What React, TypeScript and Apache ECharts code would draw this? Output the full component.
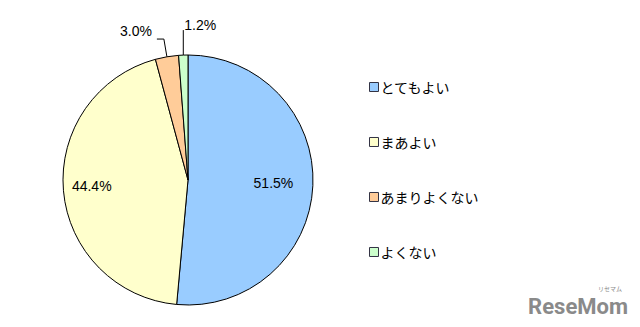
import React, { useEffect, useRef } from "react";
import * as echarts from "echarts";

const categories = ["とてもよい", "まあよい", "あまりよくない", "よくない"];
const values = [51.5, 44.4, 3.0, 1.2];
const colors = ["#99CCFF", "#FFFFCC", "#FFCC99", "#CCFFCC"];
const insideShift = [20, -31, 0, 0];

export default function App() {
  const ref = useRef<HTMLDivElement>(null);
  useEffect(() => {
    if (!ref.current) return;
    const chart = echarts.init(ref.current, null, { renderer: "svg" });
    const data = categories.map((name, i) => {
      const inside = i < 2;
      return {
        name,
        value: values[i],
        itemStyle: { color: colors[i] },
        label: inside
          ? { position: "inside" as const }
          : { position: "outside" as const },
        labelLine: { show: !inside },
      };
    });
    chart.setOption({
      animation: false,
      backgroundColor: "#ffffff",
      legend: {
        orient: "vertical",
        left: 364,
        top: 75,
        itemWidth: 9,
        itemHeight: 9,
        itemGap: 41,
        icon: "rect",
        data: categories,
        textStyle: {
          fontFamily: "Noto Sans CJK JP",
          fontSize: 14,
          color: "#000",
          padding: [0, 0, 0, -3],
        },
        itemStyle: { borderColor: "#334", borderWidth: 1 },
      },
      graphic: [
        {
          type: "text",
          right: 12,
          bottom: 10,
          style: {
            text: "ReseMom",
            fontFamily: "Roboto",
            fontWeight: "bold",
            fontSize: 22,
            fill: "#8a8a8a",
          },
        },
        {
          type: "text",
          right: 18,
          bottom: 36,
          style: {
            text: "リセマム",
            fontFamily: "Noto Sans CJK JP",
            fontSize: 6,
            fill: "#8a8a8a",
          },
        },
      ],
      series: [
        {
          type: "pie",
          center: [188, 180],
          radius: 125,
          startAngle: 90,
          clockwise: true,
          avoidLabelOverlap: false,
          itemStyle: { borderColor: "#000", borderWidth: 1 },
          label: {
            show: true,
            formatter: (p: any) => p.value.toFixed(1) + "%",
            fontFamily: "Liberation Sans",
            fontSize: 14,
            color: "#000",
          },
          labelLine: {
            length: 18,
            length2: 7,
            lineStyle: { color: "#000", width: 1 },
          },
          labelLayout: (p: any) => {
            const dx = insideShift[p.dataIndex];
            if (p.dataIndex === 3 && p.labelLinePoints) {
              const p0 = p.labelLinePoints[0];
              return {
                x: p0[0] + 1,
                y: p0[1] - 30,
                align: "left",
                verticalAlign: "middle",
                labelLinePoints: [
                  [p0[0], p0[1]],
                  [p0[0], p0[1] - 25],
                  [p0[0], p0[1] - 25],
                ],
              };
            }
            if (p.dataIndex === 2) {
              return { dy: -8 };
            }
            return dx ? { dx } : {};
          },
          data,
        },
      ],
    });
    return () => chart.dispose();
  }, []);
  return (
    <div
      ref={ref}
      style={{ position: "absolute", left: 0, top: 0, width: 640, height: 327 }}
    />
  );
}
